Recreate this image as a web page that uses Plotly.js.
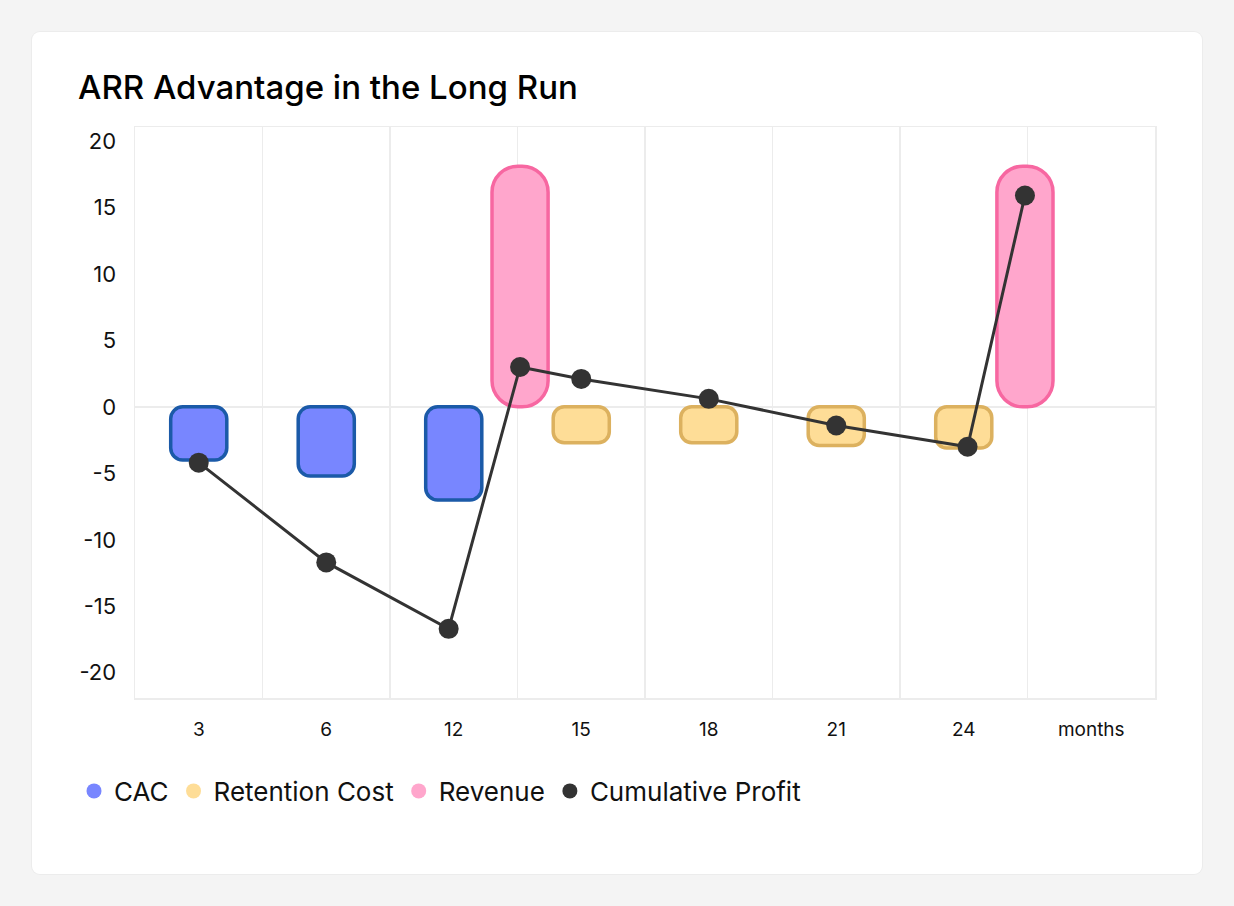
<!DOCTYPE html>
<html>
<head>
<meta charset="utf-8">
<script src="https://cdn.plot.ly/plotly-3.0.1.min.js"></script>
<style>
  body { margin: 0; width: 1234px; height: 906px; background: #f4f4f4; }
  #card {
    position: absolute; left: 32px; top: 32px; width: 1170px; height: 842px;
    background: #fff; border-radius: 8px; box-shadow: 0 0 0 1px #ececec;
  }
  #chart { width: 1170px; height: 842px; }
</style>
</head>
<body>
<div id="card"><div id="chart"></div></div>
<script>
// x slots: one per label, revenue sits on the boundary between slots
const monthLabels = ['3', '6', '12', '15', '18', '21', '24', 'months'];
const yTicks = [-20, -15, -10, -5, 0, 5, 10, 15, 20];

const cacX = [0, 1, 2];
const cacValues = [-4.0, -5.2, -7.0];

const retentionX = [3, 4, 5, 6];
const retentionValues = [-2.7, -2.7, -2.9, -3.1];

const revenueX = [2.52, 6.48];
const revenueValues = [18.1, 18.1];

const profitX = [0, 1, 1.96, 2.52, 3, 4, 5, 6.03, 6.48];
const profitValues = [-4.2, -11.7, -16.7, 3.0, 2.1, 0.6, -1.4, -3.0, 15.9];

const barWidth = 0.44;
const gridColor = '#ececec';

// an explicit base makes plotly round both ends of the bar
function bars(xs, vals, fill, stroke, radius) {
  return { type: 'bar', x: xs, y: vals, base: 0, width: barWidth,
           marker: { color: fill, cornerradius: radius, line: { color: stroke, width: 3.5 } },
           showlegend: false, hoverinfo: 'skip' };
}

function legendDot(name, color) {
  return { type: 'scatter', mode: 'markers', x: [null], y: [null], name: name,
           marker: { color: color, size: 15 }, hoverinfo: 'skip' };
}

const cacFill = '#7886ff', cacLine = '#1b5aa8';
const retFill = '#fedd97', retLine = '#dcb15f';
const revFill = '#ffa6cc', revLine = '#f767a1';
const profitColor = '#333333';

const traces = [
  bars(cacX, cacValues, cacFill, cacLine, 12),
  bars(retentionX, retentionValues, retFill, retLine, 11),
  bars(revenueX, revenueValues, revFill, revLine, 26),
  {
    type: 'scatter', mode: 'lines+markers', x: profitX, y: profitValues,
    line: { color: profitColor, width: 3 },
    marker: { color: profitColor, size: 20 },
    showlegend: false, hoverinfo: 'skip'
  },
  legendDot('CAC', cacFill), legendDot('Retention Cost', retFill),
  legendDot('Revenue', revFill), legendDot('Cumulative Profit', profitColor)
];

const layout = {
  width: 1170, height: 842,
  margin: { l: 103, r: 47, t: 95, b: 176 },
  paper_bgcolor: 'rgba(0,0,0,0)',
  plot_bgcolor: '#fff',
  font: { family: 'Inter, "Noto Sans", sans-serif', color: '#111' },
  barmode: 'overlay',
  title: {
    text: 'ARR Advantage in the Long Run',
    font: { size: 33, weight: 500, color: '#000' },
    xref: 'container', x: 46 / 1170, xanchor: 'left',
    yref: 'container', y: 1 - 55 / 842, yanchor: 'middle'
  },
  xaxis: {
    range: [-0.5, 7.5], fixedrange: true,
    tickmode: 'array', tickvals: monthLabels.map((_, i) => i), ticktext: monthLabels,
    tickfont: { size: 19 }, ticks: '', ticklabelstandoff: 14,
    showgrid: false, zeroline: false,
    showline: true, mirror: true, linecolor: gridColor, linewidth: 1.5,
    minor: { tickmode: 'linear', tick0: -0.5, dtick: 1, showgrid: true,
             gridcolor: gridColor, gridwidth: 1.5, ticks: '' }
  },
  yaxis: {
    range: [-21.9, 21.05], fixedrange: true,
    tickmode: 'array', tickvals: yTicks, ticktext: yTicks.map(String),
    tickfont: { size: 22 }, ticks: '', ticklabelstandoff: 13,
    showgrid: false, zeroline: true, zerolinecolor: gridColor, zerolinewidth: 1.5,
    showline: true, mirror: true, linecolor: gridColor, linewidth: 1.5
  },
  showlegend: true,
  legend: {
    orientation: 'h', xref: 'container', yref: 'container',
    x: 42 / 1170, xanchor: 'left', y: 1 - 759 / 842, yanchor: 'middle',
    font: { size: 26, color: '#111' }, itemwidth: 30, traceorder: 'normal'
  }
};

Plotly.newPlot('chart', traces, layout, { displayModeBar: false, staticPlot: true });
</script>
</body>
</html>
